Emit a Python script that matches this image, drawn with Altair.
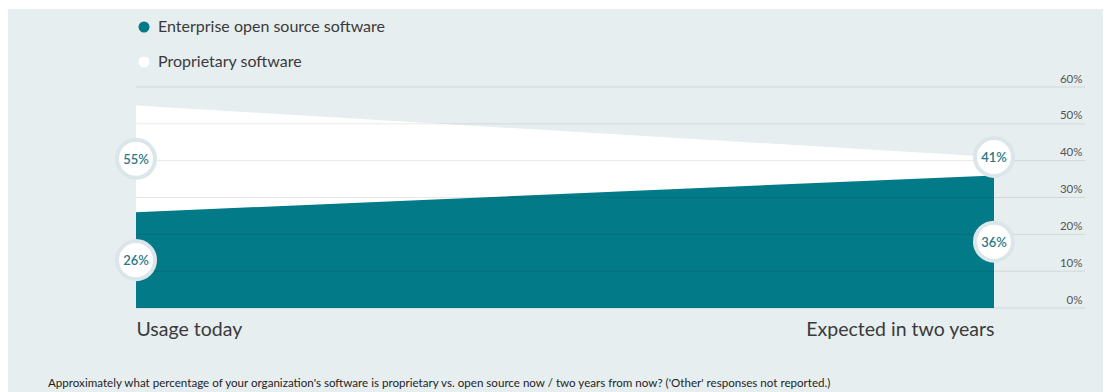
import altair as alt
import pandas as pd

# Survey values (percent of organisations' software)
periods = ["Usage today", "Expected in two years"]
series = ["Enterprise open source software", "Proprietary software"]
open_source = [26, 36]
proprietary = [55, 41]
tick_values = [0, 10, 20, 30, 40, 50, 60]
footnote = ("Approximately what percentage of your organization's software is proprietary "
            "vs. open source now / two years from now? ('Other' responses not reported.)")

TEAL = "#037a87"
PANEL = "#e7eef0"
LABEL_TEAL = "#2a7886"
FONT = "Lato"

W_PLOT = 949      # plot width, gridlines run the full width
W_DATA = 858      # span covered by the two time points
H_PLOT = 221

rows = []
for i, p in enumerate(periods):
    os_v, pr_v = open_source[i], proprietary[i]
    # badge for the open-source share sits half way up its band,
    # the proprietary badge sits in the visible white band, kept clear of the other badge
    pr_mid = max((os_v + pr_v) / 2, os_v + 5)
    rows.append({"t": i, "period": p, "series": series[0], "value": os_v,
                 "label_y": os_v / 2, "label": f"{os_v}%"})
    rows.append({"t": i, "period": p, "series": series[1], "value": pr_v,
                 "label_y": min(pr_v, pr_mid), "label": f"{pr_v}%"})
df = pd.DataFrame(rows)
grid_df = pd.DataFrame({"tick": tick_values})
note_df = pd.DataFrame({"note": [footnote]})

x_scale = alt.Scale(domain=[0, 1], range=[0, W_DATA])
y_scale = alt.Scale(domain=[0, 60], nice=False)
color_scale = alt.Scale(domain=series, range=[TEAL, "#ffffff"])

x_axis = alt.Axis(values=[0, 1], labelExpr="datum.value == 0 ? 'Usage today' : 'Expected in two years'",
                  labelAlign=alt.ExprRef(expr="datum.value == 0 ? 'left' : 'right'"),
                  domain=False, ticks=False, grid=False, title=None, zindex=1, labelLimit=0,
                  labelFontSize=19.5, labelColor="#3a3a3a", labelFont=FONT, labelPadding=12)
y_axis = alt.Axis(orient="right", values=tick_values, tickCount=7, format=".0f",
                  labelExpr="datum.value + '%'", domain=False, ticks=False, grid=False,
                  title=None, labelAlign="right", labelPadding=-3, labelOffset=-5, zindex=1,
                  labelOverlap=False, labelBaseline="alphabetic", labelFontSize=11.5,
                  labelColor="#555555", labelFont=FONT)


def xq(field="t"):
    return alt.X(f"{field}:Q", scale=x_scale, axis=x_axis)


def yq(field):
    return alt.Y(f"{field}:Q", scale=y_scale, axis=y_axis, stack=None)


panel = alt.Chart(grid_df).mark_rect(color=PANEL).encode(
    x=alt.value(-128), x2=alt.value(967), y=alt.value(-78), y2=alt.value(305)
)

base = alt.Chart(df)

legend = alt.Legend(orient="none", legendX=0, legendY=-68, title=None, symbolType="circle",
                    symbolSize=121, symbolStrokeWidth=0, symbolOpacity=1, labelFontSize=16,
                    labelColor="#3a3a3a", labelFont=FONT, rowPadding=19, labelOffset=6,
                    labelLimit=0, padding=0, zindex=1)

prop_area = base.transform_filter(alt.datum.series == series[1]).mark_area(opacity=1).encode(
    x=xq(), y=yq("value"),
    color=alt.Color("series:N", scale=color_scale, legend=legend),
)
os_area = base.transform_filter(alt.datum.series == series[0]).mark_area(opacity=1).encode(
    x=xq(), y=yq("value"),
    color=alt.Color("series:N", scale=color_scale, legend=legend),
)

grid = alt.Chart(grid_df).mark_rule(color="#000000", opacity=0.09, strokeWidth=1).encode(
    y=yq("tick"), x=alt.value(0), x2=alt.value(W_PLOT)
)

badges = base.mark_point(filled=True, fill="#ffffff", stroke="#dae6e9", strokeWidth=4,
                         size=1450, opacity=1, strokeOpacity=1).encode(
    x=xq(), y=yq("label_y"),
)
badge_text = base.mark_text(color=LABEL_TEAL, fontSize=13, fontWeight=600, font=FONT,
                            baseline="middle", align="center", dy=1).encode(
    x=xq(), y=yq("label_y"), text="label:N",
)

# question text set along the foot of the panel
note = alt.Chart(note_df).mark_text(align="left", baseline="alphabetic", fontSize=11.6,
                                    color="#1e1e1e", font=FONT).encode(
    x=alt.value(-88), y=alt.value(300), text="note:N"
)

chart = alt.layer(panel, prop_area, os_area, grid, badges, badge_text, note).properties(
    width=W_PLOT, height=H_PLOT,
    autosize=alt.AutoSizeParams(type="none"),
    padding={"left": 136, "top": 87, "right": 25, "bottom": 84},
    background="#ffffff",
).configure_view(strokeWidth=0)

chart.save("out.html", embed_options={"renderer": "svg", "actions": False})
